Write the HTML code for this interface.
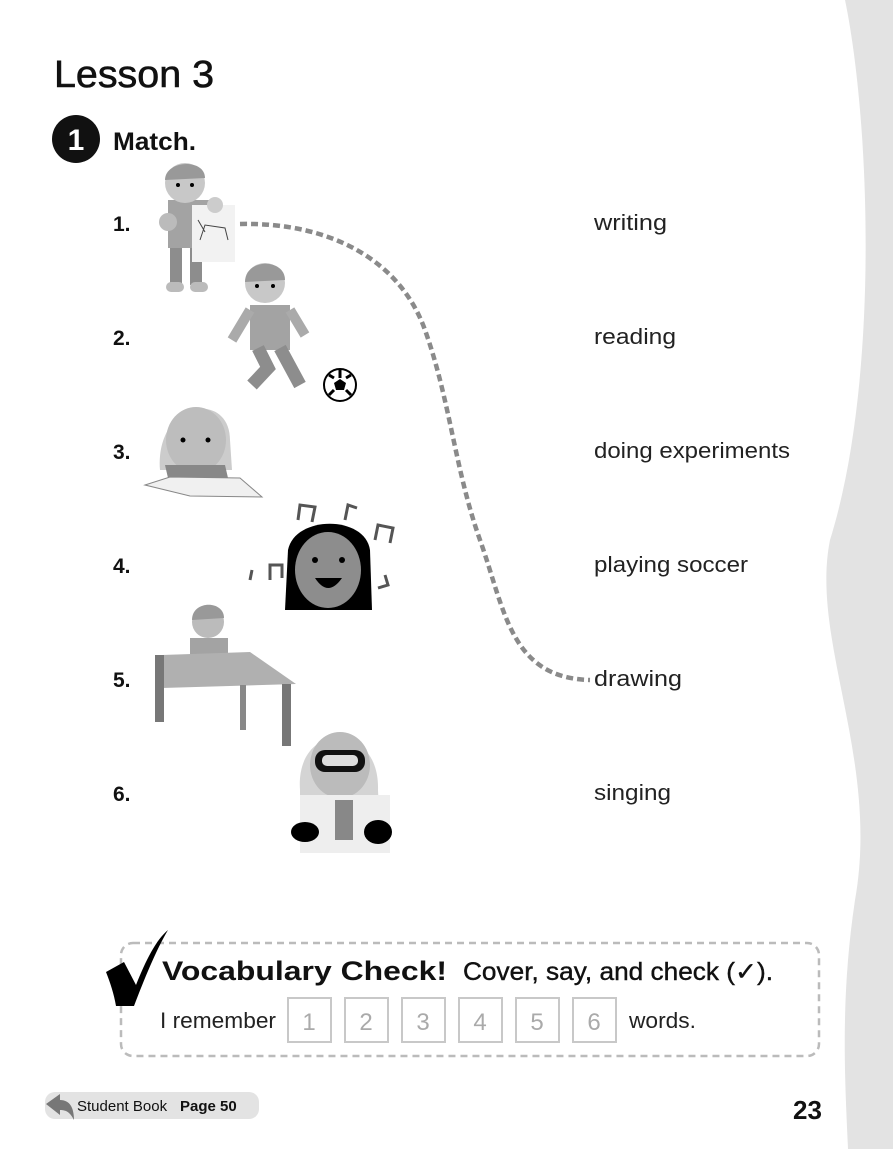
<!DOCTYPE html>
<html><head><meta charset="utf-8"><style>
html,body{margin:0;padding:0;background:#fff}
body{width:893px;height:1149px;overflow:hidden;position:relative;font-family:"Liberation Sans",sans-serif}
svg{position:absolute;left:0;top:0}
</style></head><body>
<svg width="893" height="1149" viewBox="0 0 893 1149" xmlns="http://www.w3.org/2000/svg">
<path d="M845 0 C870 120 880 380 830 540 C810 640 880 760 855 900 C840 1000 845 1080 848 1149 L893 1149 L893 0 Z" fill="#e3e3e3"/>
<text x="54" y="87" font-size="38" fill="#111" stroke="#111" stroke-width="0.6" textLength="160" lengthAdjust="spacingAndGlyphs">Lesson 3</text>
<circle cx="76" cy="139" r="24" fill="#111"/>
<text x="76" y="150" font-size="30" font-weight="bold" fill="#fff" text-anchor="middle">1</text>
<text x="113" y="150" font-size="25" font-weight="bold" fill="#111" textLength="83" lengthAdjust="spacingAndGlyphs">Match.</text>
<g font-size="21" font-weight="bold" fill="#111">
<text x="113" y="231">1.</text><text x="113" y="345">2.</text><text x="113" y="459">3.</text>
<text x="113" y="573">4.</text><text x="113" y="687">5.</text><text x="113" y="801">6.</text>
</g>
<g font-size="22" fill="#222">
<text x="594" y="230" textLength="73" lengthAdjust="spacingAndGlyphs">writing</text><text x="594" y="344" textLength="82" lengthAdjust="spacingAndGlyphs">reading</text><text x="594" y="458" textLength="196" lengthAdjust="spacingAndGlyphs">doing experiments</text>
<text x="594" y="572" textLength="154" lengthAdjust="spacingAndGlyphs">playing soccer</text><text x="594" y="686" textLength="88" lengthAdjust="spacingAndGlyphs">drawing</text><text x="594" y="800" textLength="77" lengthAdjust="spacingAndGlyphs">singing</text>
</g>
<path d="M240 224 C330 222 400 260 425 330 C450 400 455 470 480 540 C505 610 510 678 590 680" fill="none" stroke="#8a8a8a" stroke-width="4.5" stroke-dasharray="7 4"/>
<!-- 1 boy drawing -->
<rect x="170" y="240" width="12" height="45" fill="#8d8d8d"/><rect x="190" y="240" width="12" height="45" fill="#8d8d8d"/>
<rect x="166" y="282" width="18" height="10" rx="5" fill="#bbb"/><rect x="190" y="282" width="18" height="10" rx="5" fill="#bbb"/>
<rect x="168" y="200" width="45" height="48" fill="#a3a3a3"/>
<circle cx="185" cy="183" r="20" fill="#c8c8c8"/><path d="M165 180 C165 160 205 158 205 178 Z" fill="#999"/>
<circle cx="178" cy="185" r="2" fill="#000"/><circle cx="192" cy="185" r="2" fill="#000"/>
<rect x="192" y="205" width="43" height="57" fill="#f2f2f2"/>
<path d="M200 240 L205 225 L225 228 L228 240 M205 232 L198 220" stroke="#444" fill="none"/>
<circle cx="168" cy="222" r="9" fill="#bbb"/><circle cx="215" cy="205" r="8" fill="#ccc"/>
<!-- 2 soccer -->
<rect x="250" y="305" width="40" height="45" fill="#a3a3a3"/>
<circle cx="265" cy="283" r="20" fill="#c8c8c8"/><path d="M245 282 C245 258 285 258 285 280 Z" fill="#999"/>
<circle cx="257" cy="286" r="2" fill="#000"/><circle cx="273" cy="286" r="2" fill="#000"/>
<path d="M258 348 L268 368 L252 385 M280 348 L300 385" stroke="#8d8d8d" stroke-width="13" fill="none"/>
<path d="M250 310 L232 340 M290 310 L305 335" stroke="#aaa" stroke-width="10" fill="none"/>
<circle cx="340" cy="385" r="16" fill="#fff" stroke="#000" stroke-width="2"/>
<polygon points="340,379 346,383 344,390 336,390 334,383" fill="#000"/>
<path d="M329 375 L334 378 M351 375 L346 378 M329 395 L334 390 M351 395 L346 390 M340 370 L340 378" stroke="#000" stroke-width="3"/>
<!-- 3 reading -->
<path d="M160 470 C155 400 230 390 230 440 L232 470 Z" fill="#ccc"/>
<ellipse cx="196" cy="440" rx="30" ry="33" fill="#bdbdbd"/>
<circle cx="183" cy="440" r="2.5" fill="#000"/><circle cx="208" cy="440" r="2.5" fill="#000"/>
<path d="M168 478 L165 465 L225 465 L228 478 Z" fill="#888"/>
<path d="M145 485 L170 477 L240 478 L262 497 L190 496 Z" fill="#f0f0f0" stroke="#888"/>
<!-- 4 singing -->
<path d="M285 610 L288 550 C295 515 365 515 370 550 L372 610 Z" fill="#000"/>
<ellipse cx="328" cy="570" rx="33" ry="38" fill="#8d8d8d"/>
<circle cx="315" cy="560" r="3" fill="#000"/><circle cx="342" cy="560" r="3" fill="#000"/>
<path d="M315 578 Q328 598 342 578 Z" fill="#000"/>
<g fill="none" stroke="#555" stroke-width="3">
<path d="M270 580 L270 565 L282 565 L282 578"/><path d="M298 520 L300 505 L315 507 L312 522"/><path d="M345 520 L348 505 L357 508"/>
<path d="M375 540 L378 525 L393 528 L390 543"/><path d="M250 580 L252 570"/><path d="M385 575 L388 585 L378 588"/></g>
<!-- 5 desk -->
<circle cx="208" cy="622" r="16" fill="#bbb"/><path d="M192 620 C192 600 224 600 224 618 Z" fill="#999"/>
<rect x="190" y="638" width="38" height="25" fill="#a3a3a3"/>
<path d="M162 655 L250 652 L296 684 L162 688 Z" fill="#b0b0b0"/>
<rect x="155" y="655" width="9" height="67" fill="#777"/><rect x="282" y="684" width="9" height="62" fill="#777"/>
<rect x="240" y="685" width="6" height="45" fill="#888"/>
<!-- 6 scientist -->
<path d="M300 790 C295 720 380 720 378 790 L380 830 L300 830 Z" fill="#d4d4d4"/>
<ellipse cx="340" cy="765" rx="30" ry="33" fill="#bbb"/>
<rect x="315" y="750" width="50" height="22" rx="10" fill="#111"/><rect x="322" y="755" width="36" height="11" rx="5" fill="#ddd"/>
<rect x="300" y="795" width="90" height="58" fill="#eee"/>
<rect x="335" y="800" width="18" height="40" fill="#888"/>
<ellipse cx="305" cy="832" rx="14" ry="10" fill="#000"/><ellipse cx="378" cy="832" rx="14" ry="12" fill="#000"/>
<!-- Vocab box -->
<rect x="121" y="943" width="698" height="113" rx="12" fill="none" stroke="#bbb" stroke-width="2.5" stroke-dasharray="7 5"/>
<path d="M106 972 L124 962 L136 985 C146 960 156 940 168 930 C156 950 144 980 134 1006 L116 1006 C114 994 110 982 106 972 Z" fill="#000"/>
<text x="162" y="980" font-size="27" font-weight="bold" fill="#111" textLength="285" lengthAdjust="spacingAndGlyphs">Vocabulary Check!</text>
<text x="463" y="980" font-size="25" fill="#111" stroke="#111" stroke-width="0.4" textLength="310" lengthAdjust="spacingAndGlyphs">Cover, say, and check (✓).</text>
<text x="160" y="1028" font-size="22" fill="#222" textLength="116" lengthAdjust="spacingAndGlyphs">I remember</text>
<g fill="#fff" stroke="#c8c8c8" stroke-width="2">
<rect x="288" y="998" width="43" height="44"/><rect x="345" y="998" width="43" height="44"/><rect x="402" y="998" width="43" height="44"/>
<rect x="459" y="998" width="43" height="44"/><rect x="516" y="998" width="43" height="44"/><rect x="573" y="998" width="43" height="44"/></g>
<g font-size="24" fill="#aaa" text-anchor="middle">
<text x="309" y="1030">1</text><text x="366" y="1030">2</text><text x="423" y="1030">3</text><text x="480" y="1030">4</text><text x="537" y="1030">5</text><text x="594" y="1030">6</text></g>
<text x="629" y="1028" font-size="22" fill="#222" textLength="67" lengthAdjust="spacingAndGlyphs">words.</text>
<!-- footer -->
<rect x="45" y="1092" width="214" height="27" rx="10" fill="#e3e3e3"/>
<path d="M46 1104 L60 1094 L60 1100 C70 1100 74 1108 74 1120 C70 1112 66 1110 60 1110 L60 1115 Z" fill="#777"/>
<text x="77" y="1111" font-size="15" fill="#111">Student Book</text>
<text x="180" y="1111" font-size="15" font-weight="bold" fill="#111">Page 50</text>
<text x="793" y="1119" font-size="26" font-weight="bold" fill="#111">23</text>
</svg>
</body></html>
